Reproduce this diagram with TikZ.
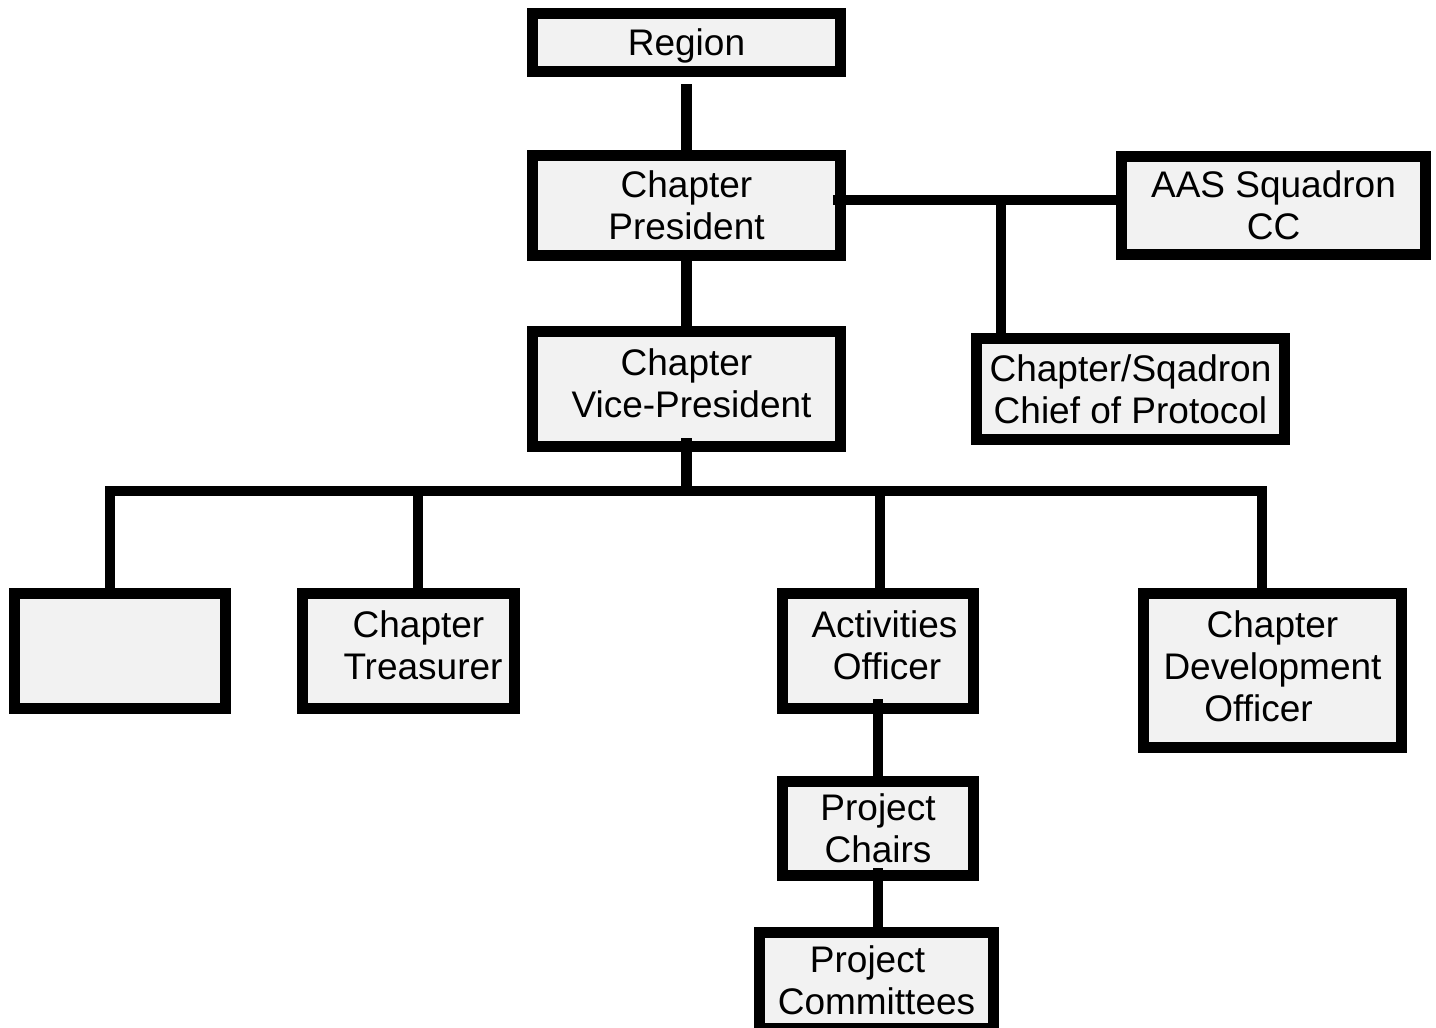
\documentclass[tikz,border=0pt]{standalone}
\usepackage{fontspec}
\setmainfont{Liberation Sans}
\definecolor{boxgrey}{HTML}{F2F2F2}
\begin{document}
\begin{tikzpicture}[x=1pt,y=-1pt,
  post/.style={draw,line width=11pt,fill=boxgrey,inner sep=0pt,align=center,text depth=0pt,
    font=\fontsize{37}{42}\selectfont},
  link/.style={line width=10.5pt}]
\useasboundingbox (0,0) rectangle (1436,1028);
% top of the chart
\node[post,minimum width=308pt,minimum height=58pt] (region) at (686.5,42.5) {Region};
\node[post,minimum width=308pt,minimum height=100pt] (pres) at (686.5,205.5) {Chapter\\President};
\node[post,minimum width=304pt,minimum height=98pt] (aas) at (1273.5,205.5) {AAS Squadron\\CC};
\node[post,minimum width=308pt,minimum height=101pt] (protocol) at (1130.5,389) {Chapter/Sqadron\\Chief of Protocol};
\node[post,minimum width=308pt,minimum height=115pt,text depth=12pt] (vp) at (686.5,389) {Chapter\\\hspace*{10pt}Vice-President};
% officers
\node[post,minimum width=211pt,minimum height=115pt] (blank) at (120,651) {};
\node[post,minimum width=212pt,minimum height=115pt,text depth=12pt] (treas) at (408.5,651) {\hspace*{20pt}Chapter\\\hspace*{29pt}Treasurer};
\node[post,minimum width=191pt,minimum height=115pt,text depth=12pt] (activ) at (878,651) {\hspace*{13pt}Activities\\\hspace*{18pt}Officer};
\node[post,minimum width=258pt,minimum height=154pt,text depth=8pt] (devel) at (1272.5,670.5) {Chapter\\Development\\Officer\hspace*{28pt}};
\node[post,minimum width=191pt,minimum height=94pt] (chairs) at (878,828.5) {Project\\Chairs};
\node[post,minimum width=234pt,minimum height=96pt] (comm) at (876.5,980.5) {Project\hspace*{18pt}\\Committees};
% connectors
\draw[link] ([yshift=-7pt]region.south) -- (pres.north);
\draw[link] (pres.south) -- (vp.north);
\draw[link] ([shift={(-13pt,5.5pt)}]pres.east) -- ([yshift=5.5pt]aas.west);
\coordinate (tee) at (1001,200);
\draw[link] (tee) -- (tee |- protocol.north);
\coordinate (busleft) at (110,491);
\coordinate (busright) at (1262,491);
\coordinate (bustreas) at (418,491);
\coordinate (busactiv) at (880,491);
\draw[link] (busleft |- blank.north) -- (busleft) -- (busright) -- (busright |- devel.north);
\draw[link] ([yshift=14pt]vp.south) -- (vp.south |- busleft);
\draw[link] (bustreas) -- (bustreas |- treas.north);
\draw[link] (busactiv) -- (busactiv |- activ.north);
\draw[link] ([yshift=15pt]activ.south) -- (chairs.north);
\draw[link] ([yshift=13pt]chairs.south) -- (comm.north -| chairs.south);
\end{tikzpicture}
\end{document}
